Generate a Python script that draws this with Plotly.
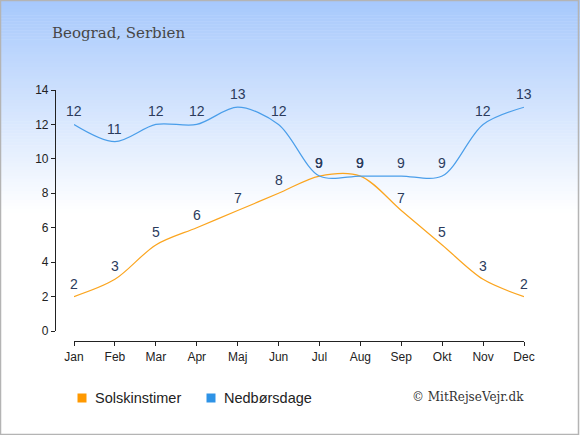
import plotly.graph_objects as go

months = ['Jan', 'Feb', 'Mar', 'Apr', 'Maj', 'Jun', 'Jul', 'Aug', 'Sep', 'Okt', 'Nov', 'Dec']
sun_hours = [2, 3, 5, 6, 7, 8, 9, 9, 7, 5, 3, 2]
rain_days = [12, 11, 12, 12, 13, 12, 9, 9, 9, 9, 12, 13]
series_names = ['Solskinstimer', 'Nedbørsdage']
line_colors = ['#fba51f', '#4a9eea']
legend_colors = ['#ff9900', '#2e93e6']

W, H = 580, 435
L, R, T, B = 55, 56, 90, 94
pw, ph = W - L - R, H - T - B

def px_x(p):
    return (p - L) / pw

def px_y(p):
    return (H - B - p) / ph

fig = go.Figure()

label_font = dict(family='Liberation Sans, Arial', size=14, color='#2b3b5c')
for values, color in zip([sun_hours, rain_days], line_colors):
    fig.add_trace(go.Scatter(
        x=months, y=values, mode='lines',
        line=dict(color=color, width=1.2, shape='spline', smoothing=0.9),
        showlegend=False, hoverinfo='skip'))
    for m, v in zip(months, values):
        fig.add_annotation(x=m, y=v, text=str(v), showarrow=False, yshift=13,
                           font=label_font, xanchor='center', yanchor='middle')

# background gradient
top = (166, 200, 252)
steps = 70
grad_end = 212
for i in range(steps):
    y0 = grad_end * i / steps
    y1 = grad_end * (i + 1) / steps + 0.5
    f = (i + 0.5) / steps
    c = tuple(round(top[k] + (255 - top[k]) * f) for k in range(3))
    fig.add_shape(type='rect', xref='paper', yref='paper', layer='below',
                  x0=px_x(0), x1=px_x(W), y0=px_y(y1), y1=px_y(y0),
                  line=dict(width=0), fillcolor='rgb(%d,%d,%d)' % c)

fig.add_shape(type='rect', xref='paper', yref='paper', layer='above',
              x0=px_x(0.5), x1=px_x(W - 1.5), y0=px_y(H - 0.5), y1=px_y(0.5),
              line=dict(color='#b4b4b4', width=1.5))

# legend drawn by hand: square + label
for name, color, sx in zip(series_names, legend_colors, [82, 211]):
    fig.add_shape(type='rect', xref='paper', yref='paper',
                  x0=px_x(sx - 4.5), x1=px_x(sx + 4.5), y0=px_y(402.5), y1=px_y(393.5),
                  line=dict(width=0), fillcolor=color)
    fig.add_annotation(text=name, xref='paper', yref='paper', x=px_x(sx + 11), y=px_y(398),
                       xanchor='left', yanchor='middle', showarrow=False,
                       font=dict(family='Liberation Sans, Arial', size=14.5, color='#222222'))

fig.add_annotation(text='Beograd, Serbien', xref='paper', yref='paper',
                   x=px_x(50), y=px_y(33), xanchor='left', yanchor='middle', showarrow=False,
                   font=dict(family='DejaVu Serif', size=15, color='#474747'))
fig.add_annotation(text='© MitRejseVejr.dk', xref='paper', yref='paper',
                   x=px_x(526), y=px_y(397), xanchor='right', yanchor='middle', showarrow=False,
                   font=dict(family='DejaVu Serif', size=12, color='#333333'))

fig.update_layout(
    width=W, height=H,
    margin=dict(l=L, r=R, t=T, b=B),
    paper_bgcolor='white', plot_bgcolor='rgba(0,0,0,0)',
    font=dict(family='Liberation Sans, Arial', size=12, color='#222222'),
    showlegend=False,
    xaxis=dict(domain=[px_x(74), 1], range=[0, 11], anchor='free', position=0,
               showgrid=False, zeroline=False, showline=True, linecolor='#222222', linewidth=1.2,
               ticks='outside', ticklen=4, tickcolor='#222222', tickwidth=1.2,
               tickfont=dict(size=12, color='#222222')),
    yaxis=dict(domain=[px_y(331), 1], range=[0, 14], dtick=2, anchor='free', position=0,
               showgrid=False, zeroline=False, showline=True, linecolor='#222222', linewidth=1.2,
               ticks='outside', ticklen=4, tickcolor='#222222', tickwidth=1.2,
               tickfont=dict(size=12, color='#222222')),
)

fig.write_html('out.html', config={'displayModeBar': False},
               post_script="document.body.style.margin='0';")
